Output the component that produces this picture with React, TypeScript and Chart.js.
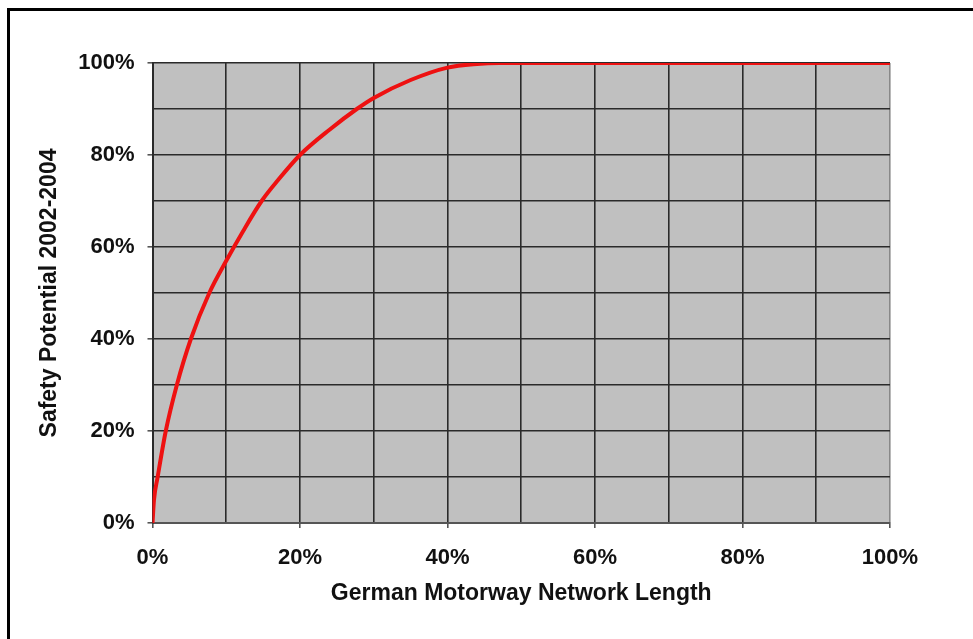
import React, { useEffect, useRef } from "react";
import { Chart, registerables } from "chart.js";

Chart.register(...registerables);

const networkLength = [0, 0.2, 0.7, 1.8, 3.3, 5.2, 7.7, 10, 12.3, 14.8, 17, 20, 24, 27.7, 30, 35, 40, 44, 47, 100];
const safetyPotential = [0, 5, 10, 20, 30, 40, 50, 57, 63.5, 70, 74.5, 80, 85.5, 90, 92.4, 96.3, 99, 99.8, 100, 100];
const xTitle = "German Motorway Network Length";
const yTitle = "Safety Potential 2002-2004";
const labelFont = '"Liberation Sans", Arial, sans-serif';

const plotBg = {
  id: "plotBg",
  beforeDraw(chart: any) {
    const { ctx, chartArea } = chart;
    ctx.save();
    ctx.fillStyle = "#c0c0c0";
    ctx.fillRect(chartArea.left, chartArea.top, chartArea.right - chartArea.left, chartArea.bottom - chartArea.top);
    ctx.restore();
  },
};

export default function App() {
  const ref = useRef<HTMLCanvasElement>(null);
  useEffect(() => {
    if (!ref.current) return;
    const points = networkLength.map((x, i) => ({ x, y: safetyPotential[i] }));
    const chart = new Chart(ref.current, {
      type: "line",
      data: {
        datasets: [
          {
            data: points,
            borderColor: "#ee1111",
            borderWidth: 4,
            pointRadius: 0,
            cubicInterpolationMode: "monotone",
            fill: false,
          },
        ],
      },
      options: {
        animation: false,
        responsive: false,
        devicePixelRatio: 1,
        layout: { padding: { left: 36, right: 83, top: 63, bottom: 32 } },
        plugins: { legend: { display: false }, tooltip: { enabled: false } },
        scales: {
          x: {
            type: "linear",
            min: 0,
            max: 100,
            afterFit: (s: any) => {
              s.height = 84;
            },
            ticks: {
              stepSize: 10,
              autoSkip: false,
              maxRotation: 0,
              padding: 17,
              color: "#111",
              font: { family: labelFont, size: 22, weight: "bold" },
              callback: (v: any) => (Number(v) % 20 === 0 ? v + "%" : ""),
            },
            grid: {
              color: (c: any) => (c.tick && c.tick.value === 100 ? "#888" : "#2a2a2a"),
              lineWidth: 1.6,
              tickLength: 5,
              tickColor: (c: any) => (c.tick && c.tick.value % 20 === 0 ? "#555" : "rgba(0,0,0,0)"),
            },
            border: { color: "#555", width: 2 },
            title: {
              display: true,
              text: xTitle,
              color: "#111",
              padding: 0,
              font: { family: labelFont, size: 23, weight: "bold" },
            },
          },
          y: {
            min: 0,
            max: 100,
            afterFit: (s: any) => {
              s.width = 116.5;
            },
            ticks: {
              stepSize: 10,
              autoSkip: false,
              padding: 13,
              color: "#111",
              font: { family: labelFont, size: 22, weight: "bold" },
              callback: (v: any) => (Number(v) % 20 === 0 ? v + "%" : ""),
            },
            grid: {
              color: "#2a2a2a",
              lineWidth: 1.6,
              tickLength: 5,
              tickColor: (c: any) => (c.tick && c.tick.value % 20 === 0 ? "#555" : "rgba(0,0,0,0)"),
            },
            border: { color: "#2a2a2a", width: 2 },
            title: {
              display: true,
              text: yTitle,
              color: "#111",
              padding: 0,
              font: { family: labelFont, size: 23, weight: "bold" },
            },
          },
        },
      },
      plugins: [plotBg],
    });
    return () => chart.destroy();
  }, []);

  return (
    <div style={{ position: "fixed", left: 0, top: 0, width: 973, height: 639, background: "#fff", overflow: "hidden" }}>
      <div
        style={{
          position: "absolute",
          left: 7,
          top: 8,
          width: 1000,
          height: 700,
          borderLeft: "3px solid #000",
          borderTop: "3px solid #000",
        }}
      />
      <canvas ref={ref} width={973} height={639} style={{ position: "absolute", left: 0, top: 0, width: 973, height: 639 }} />
    </div>
  );
}
